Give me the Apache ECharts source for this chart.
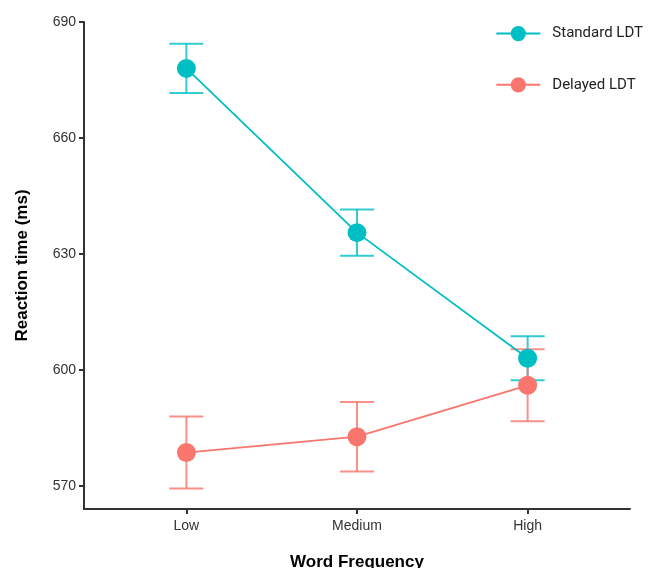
<!DOCTYPE html>
<html>
<head>
<meta charset="utf-8">
<script src="https://cdn.jsdelivr.net/npm/echarts@6/dist/echarts.min.js"></script>
<style>
  html, body { margin: 0; padding: 0; background: #fff; }
  #main { width: 657px; height: 568px; }
</style>
</head>
<body>
<div id="main"></div>
<script>
const categories = ['Low', 'Medium', 'High'];
const yTicks = [570, 600, 630, 660, 690];

const standardMean = [678, 635.5, 603];
const standardErr = [6.4, 6, 5.7];
const delayedMean = [578.6, 582.7, 596];
const delayedErr = [9.3, 9, 9.3];

var chartDom = document.getElementById('main');
var myChart = echarts.init(chartDom);

function errorSeries(name, means, errs, color) {
  return {
    name: name,
    type: 'custom',
    z: 1,
    silent: true,
    data: means.map((m, i) => [i, m - errs[i], m + errs[i]]),
    renderItem: function (params, api) {
      var x = api.value(0);
      var lo = api.coord([x, api.value(1)]);
      var hi = api.coord([x, api.value(2)]);
      var half = api.size([0.2, 0])[0] / 2;
      var style = { stroke: color, lineWidth: 2, opacity: 0.8 };
      return {
        type: 'group',
        children: [
          { type: 'line', shape: { x1: lo[0], y1: lo[1], x2: hi[0], y2: hi[1] }, style: style },
          { type: 'line', shape: { x1: hi[0] - half, y1: hi[1], x2: hi[0] + half, y2: hi[1] }, style: style },
          { type: 'line', shape: { x1: lo[0] - half, y1: lo[1], x2: lo[0] + half, y2: lo[1] }, style: style }
        ]
      };
    }
  };
}

function lineSeries(name, means, color) {
  return {
    name: name,
    type: 'line',
    z: 3,
    data: means.map((m, i) => [i, m]),
    symbol: 'circle',
    symbolSize: 19,
    itemStyle: { color: color },
    lineStyle: { color: color, width: 1.8 }
  };
}

var option = {
  animation: false,
  backgroundColor: '#fff',
  grid: { left: 84, right: 27, top: 22, bottom: 59, outerBoundsMode: 'none', containLabel: false },
  legend: {
    orient: 'vertical',
    right: 9,
    top: 21,
    itemWidth: 44,
    itemHeight: 19,
    itemGap: 36,
    data: ['Standard LDT', 'Delayed LDT'],
    textStyle: { fontFamily: 'Roboto', fontSize: 15, color: '#222', padding: [0, 0, 0, 7] }
  },
  xAxis: {
    type: 'value',
    min: -0.6,
    max: 2.6,
    name: 'Word Frequency',
    nameLocation: 'middle',
    nameGap: 45,
    nameTextStyle: { fontFamily: 'Arial', fontWeight: 'bold', fontSize: 17, color: '#000' },
    splitLine: { show: false },
    axisLine: { onZero: false, lineStyle: { color: '#333', width: 2 } },
    axisTick: { show: true, customValues: [0, 1, 2], length: 5, lineStyle: { color: '#333', width: 2 } },
    axisLabel: {
      customValues: [0, 1, 2],
      formatter: v => categories[Math.round(v)],
      fontFamily: 'Arial', fontSize: 14, color: '#333', margin: 10
    }
  },
  yAxis: {
    type: 'value',
    min: 564,
    max: 690,
    name: 'Reaction time (ms)',
    nameLocation: 'middle',
    nameGap: 53,
    nameTextStyle: { fontFamily: 'Arial', fontWeight: 'bold', fontSize: 17, color: '#000' },
    splitLine: { show: false },
    axisLine: { show: true, onZero: false, lineStyle: { color: '#333', width: 2 } },
    axisTick: { show: true, customValues: yTicks, length: 5, lineStyle: { color: '#333', width: 2 } },
    axisLabel: { customValues: yTicks, fontFamily: 'Arial', fontSize: 14, color: '#333', margin: 8 }
  },
  series: [
    errorSeries('Standard LDT error', standardMean, standardErr, '#00BFC4'),
    errorSeries('Delayed LDT error', delayedMean, delayedErr, '#F8766D'),
    lineSeries('Standard LDT', standardMean, '#00BFC4'),
    lineSeries('Delayed LDT', delayedMean, '#F8766D')
  ]
};

option && myChart.setOption(option);
</script>
</body>
</html>
